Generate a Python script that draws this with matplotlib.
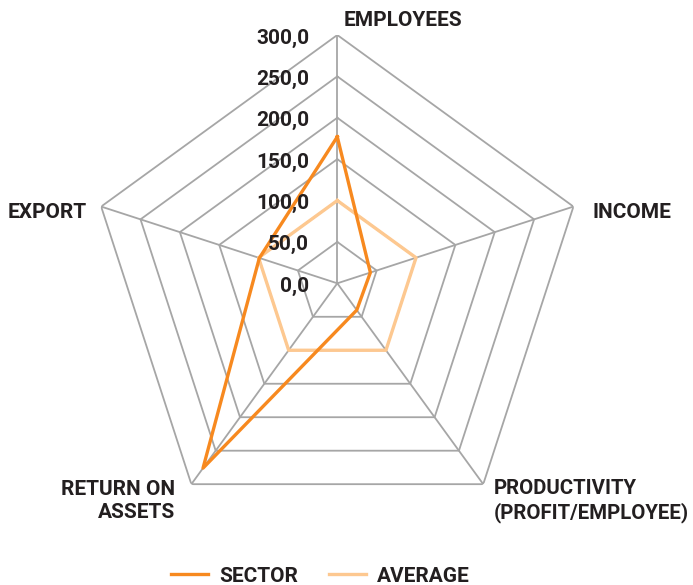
import numpy as np
import matplotlib
matplotlib.use("Agg")
import matplotlib.pyplot as plt

categories = ["EMPLOYEES", "INCOME", "PRODUCTIVITY\n(PROFIT/EMPLOYEE)", "RETURN ON\nASSETS", "EXPORT"]
sector = [177, 42, 40, 276, 99]
average = [100, 100, 100, 100, 100]
ticks = [0, 50, 100, 150, 200, 250, 300]
tick_labels = ["0,0", "50,0", "100,0", "150,0", "200,0", "250,0", "300,0"]

SECTOR_C = "#f7891f"
AVERAGE_C = "#fdc890"
GRID_C = "#a6a6a6"
TEXT_C = "#231f20"
FONT = "Roboto"
FS = 15

W, H = 693, 585
fig = plt.figure(figsize=(W / 100, H / 100), dpi=100)

cx, cy, R = 337.3, 283.3, 248.3
ax = fig.add_axes([(cx - R) / W, (H - cy - R) / H, 2 * R / W, 2 * R / H], projection="polar")
ax.set_theta_offset(np.pi / 2)
ax.set_theta_direction(-1)
ax.set_ylim(0, 300)
ax.grid(False)
ax.spines["polar"].set_visible(False)
ax.set_xticks([])
ax.set_yticks([])
ax.patch.set_alpha(0)

n = len(categories)
theta = np.linspace(0, 2 * np.pi, n, endpoint=False)
closed = np.append(theta, theta[0])

# pentagon rings and spokes
for t in ticks[1:]:
    ax.plot(closed, [t] * (n + 1), color=GRID_C, lw=1.3, zorder=1)
for th in theta:
    ax.plot([th, th], [0, 300], color=GRID_C, lw=1.3, zorder=1)

l1, = ax.plot(closed, sector + sector[:1], color=SECTOR_C, lw=2.4, zorder=3, label="SECTOR")
l2, = ax.plot(closed, average + average[:1], color=AVERAGE_C, lw=2.4, zorder=2, label="AVERAGE")

# radial value labels to the left of the top spoke
for t, lab in zip(ticks, tick_labels):
    ax.annotate(lab, (0, t), xytext=(-28, -3), textcoords="offset pixels",
                ha="right", va="center", fontsize=FS, fontweight="bold",
                family=FONT, color=TEXT_C)

# category labels near the outer vertices
offsets = [((6, 15), "left", FS),
           ((19, -6), "left", FS),
           ((11, -17), "left", FS - 0.3),
           ((-16, -17), "right", FS),
           ((-14, -6), "right", FS)]
for th, lab, (off, ha, fs) in zip(theta, categories, offsets):
    ax.annotate(lab, (th, 300), xytext=off, textcoords="offset pixels",
                ha=ha, va="center", multialignment=ha, fontsize=fs,
                fontweight="bold", family=FONT, color=TEXT_C,
                linespacing=1.25, annotation_clip=False)

leg = fig.legend(handles=[l1, l2], loc="center", bbox_to_anchor=(320.5 / W, 1 - 576 / H),
                 ncol=2, frameon=False, handlelength=1.75, handletextpad=0.55,
                 columnspacing=1.5, prop={"family": FONT, "weight": "bold", "size": FS})
for txt in leg.get_texts():
    txt.set_color(TEXT_C)

fig.savefig("out.png", dpi=100)
